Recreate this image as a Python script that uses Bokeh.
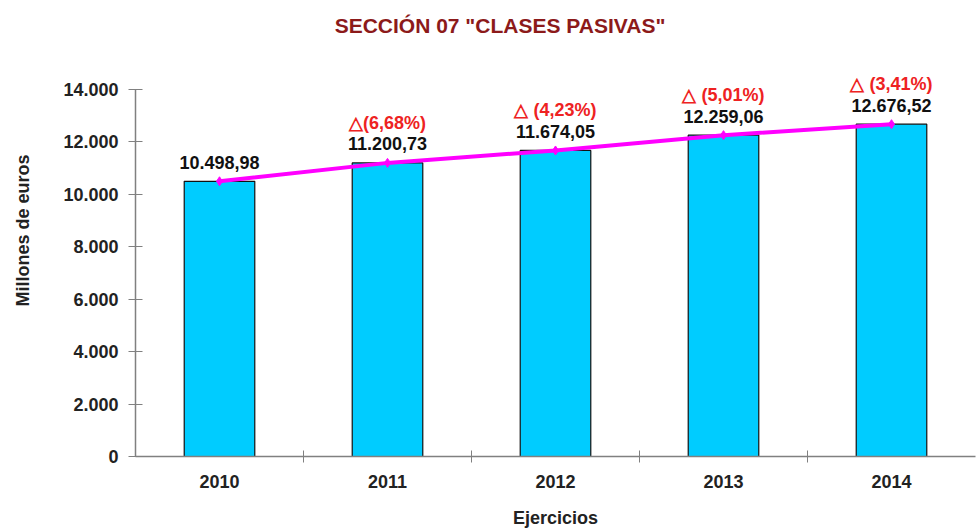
from bokeh.plotting import figure
from bokeh.models import ColumnDataSource, LabelSet, Label, FixedTicker, Range1d
from bokeh.core.properties import value
from bokeh.embed import file_html
from bokeh.resources import INLINE

years = ["2010", "2011", "2012", "2013", "2014"]
values = [10498.98, 11200.73, 11674.05, 12259.06, 12676.52]
value_labels = ["10.498,98", "11.200,73", "11.674,05", "12.259,06", "12.676,52"]
delta_labels = ["", "\u25b3(6,68%)", "\u25b3 (4,23%)", "\u25b3 (5,01%)", "\u25b3 (3,41%)"]
y_ticks = [0, 2000, 4000, 6000, 8000, 10000, 12000, 14000]
title_text = 'SECCIÓN 07 "CLASES PASIVAS"'

FONT = "Liberation Sans"
W, H = 977, 531
BL, BR, BT, BB = 135, 2, 4, 75
AXIS_PX = 367          # pixel height of the 0..14000 axis span
frame_w = W - BL - BR
frame_h = H - BT - BB
y_top = y_ticks[-1] * frame_h / AXIS_PX   # extra headroom for labels/title

xs = [i + 0.5 for i in range(len(years))]
src = ColumnDataSource(dict(x=xs, y=values, vl=value_labels, dl=delta_labels))

p = figure(width=W, height=H, output_backend="svg", toolbar_location=None,
           x_range=Range1d(0, len(years)), y_range=Range1d(0, y_top),
           min_border_left=BL, min_border_right=BR, min_border_top=BT, min_border_bottom=BB)
p.outline_line_color = None
p.grid.grid_line_color = None
p.background_fill_color = "white"

# title centred on the whole canvas (label screen units are frame-relative)
p.add_layout(Label(x=W / 2 + 11 - BL, y=frame_h - 21, x_units="screen", y_units="screen",
                   text=title_text, text_align="center", text_baseline="middle",
                   text_font=FONT, text_font_size="21px", text_font_style="bold",
                   text_color="#8C1A1A"))

p.vbar(x="x", top="y", width=0.42, bottom=0, source=src,
       fill_color="#00CCFF", line_color="#111111", line_width=1.2)
p.line(x="x", y="y", source=src, line_color="#FF00FF", line_width=4)
p.scatter(x="x", y="y", source=src, marker="diamond", size=9,
          fill_color="#FF00FF", line_color="#FF00FF")

p.add_layout(LabelSet(x="x", y="y", text="vl", source=src, y_offset=19,
                      text_align="center", text_baseline="middle",
                      text_font=value(FONT), text_font_size=value("18px"),
                      text_font_style=value("bold"), text_color=value("#111111")))
p.add_layout(LabelSet(x="x", y="y", text="dl", source=src, y_offset=40,
                      text_align="center", text_baseline="middle",
                      text_font=value(FONT), text_font_size=value("18px"),
                      text_font_style=value("bold"), text_color=value("#EE2222")))

# x axis
xa = p.xaxis[0]
xa.ticker = FixedTicker(ticks=xs, minor_ticks=list(range(1, len(years))))
xa.major_label_overrides = {x: y for x, y in zip(xs, years)}
xa.major_tick_line_color = None
xa.major_tick_in = 0
xa.major_tick_out = 6
xa.minor_tick_in = 6
xa.minor_tick_out = 6
xa.minor_tick_line_color = "#808080"
xa.axis_line_color = "#808080"
xa.axis_line_width = 1.5
xa.major_label_text_font = FONT
xa.major_label_text_font_size = "18px"
xa.major_label_text_font_style = "bold"
xa.major_label_text_color = "#222222"
xa.major_label_standoff = 12
xa.axis_label = "Ejercicios"
xa.axis_label_text_font = FONT
xa.axis_label_text_font_size = "18px"
xa.axis_label_text_font_style = "bold"
xa.axis_label_text_color = "#222222"
xa.axis_label_standoff = 17

ya = p.yaxis[0]
ya.ticker = FixedTicker(ticks=y_ticks)
ya.bounds = (y_ticks[0], y_ticks[-1])
ya.major_label_overrides = {t: f"{t:,}".replace(",", ".") for t in y_ticks}
ya.major_tick_in = 7
ya.major_tick_out = 7
ya.minor_tick_line_color = None
ya.major_tick_line_color = "#808080"
ya.axis_line_color = "#808080"
ya.axis_line_width = 1.5
ya.major_label_text_font = FONT
ya.major_label_text_font_size = "18px"
ya.major_label_text_font_style = "bold"
ya.major_label_text_color = "#222222"
ya.major_label_standoff = 10
ya.axis_label = "Millones de euros"
ya.axis_label_text_font = FONT
ya.axis_label_text_font_size = "18px"
ya.axis_label_text_font_style = "bold"
ya.axis_label_text_color = "#222222"
ya.axis_label_standoff = 27

open("out.html", "w").write(file_html(p, INLINE))
